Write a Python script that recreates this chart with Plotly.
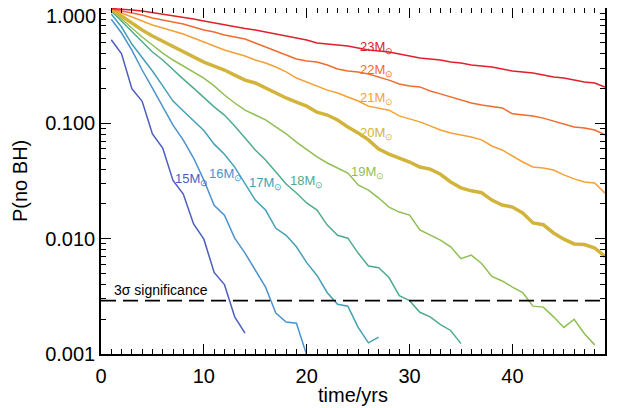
import plotly.graph_objects as go

# ---- data ----
masses = [15, 16, 17, 18, 19, 20, 21, 22, 23]

p15 = [0.53, 0.40, 0.20, 0.155, 0.081, 0.061, 0.032, 0.0244, 0.0134, 0.0099,
       0.0051, 0.0040, 0.0021, 0.00152]
p16 = [0.80, 0.607, 0.432, 0.290, 0.202, 0.138, 0.0966, 0.0716, 0.050, 0.0322,
       0.0195, 0.0160, 0.0101, 0.0075, 0.00534, 0.0038, 0.00226, 0.00189, 0.00185, 0.00098]
p17 = [0.887, 0.684, 0.487, 0.376, 0.284, 0.211, 0.156, 0.128, 0.105, 0.0866,
       0.066, 0.054, 0.0417, 0.0298, 0.0216, 0.0177, 0.0123, 0.0107, 0.0085, 0.0062,
       0.0048, 0.0034, 0.0027, 0.0026, 0.0017, 0.00125, 0.0014]
p18 = [0.942, 0.771, 0.619, 0.507, 0.415, 0.354, 0.290, 0.242, 0.202, 0.166,
       0.139, 0.118, 0.0950, 0.0746, 0.0588, 0.0481, 0.0377, 0.0298, 0.0249, 0.0204,
       0.0177, 0.0131, 0.0107, 0.0101, 0.0075, 0.0058, 0.0056, 0.0046, 0.0032, 0.0029,
       0.0023, 0.0021, 0.0018, 0.0016, 0.00123]
p19 = [0.961, 0.803, 0.671, 0.560, 0.478, 0.407, 0.354, 0.314, 0.279, 0.247,
       0.211, 0.176, 0.150, 0.130, 0.118, 0.107, 0.0930, 0.0812, 0.0687, 0.0588,
       0.0512, 0.0453, 0.0409, 0.0370, 0.0292, 0.0264, 0.0225, 0.0188, 0.0170, 0.0160,
       0.0119, 0.0107, 0.0097, 0.0085, 0.0067, 0.0072, 0.0061, 0.0047, 0.0043, 0.0038,
       0.0034, 0.0026, 0.00255, 0.0021, 0.0017, 0.0020, 0.0015, 0.0012]
p20 = [0.98, 0.852, 0.741, 0.644, 0.572, 0.517, 0.468, 0.416, 0.376, 0.340,
       0.314, 0.290, 0.262, 0.237, 0.224, 0.202, 0.183, 0.166, 0.153, 0.141,
       0.125, 0.118, 0.107, 0.0930, 0.0826, 0.0719, 0.0598, 0.0541, 0.0500, 0.0462,
       0.0418, 0.0401, 0.0362, 0.0310, 0.0276, 0.0260, 0.0250, 0.0216, 0.0196, 0.0188,
       0.0167, 0.0137, 0.0132, 0.0112, 0.0099, 0.0090, 0.0089, 0.0083, 0.0070]
p21 = [0.98, 0.905, 0.835, 0.771, 0.712, 0.671, 0.632, 0.595, 0.549, 0.507,
       0.468, 0.432, 0.407, 0.383, 0.354, 0.333, 0.308, 0.279, 0.247, 0.228,
       0.211, 0.194, 0.183, 0.169, 0.156, 0.141, 0.136, 0.130, 0.116, 0.109,
       0.103, 0.0950, 0.0876, 0.0826, 0.0793, 0.0762, 0.0719, 0.0636, 0.0588, 0.0521,
       0.0462, 0.0418, 0.0409, 0.0394, 0.0357, 0.0330, 0.0310, 0.0304, 0.0248]
p22 = [0.98, 0.942, 0.905, 0.870, 0.819, 0.787, 0.756, 0.726, 0.684, 0.644,
       0.619, 0.583, 0.560, 0.539, 0.497, 0.459, 0.424, 0.391, 0.361, 0.347,
       0.340, 0.320, 0.296, 0.284, 0.279, 0.268, 0.252, 0.237, 0.219, 0.211,
       0.207, 0.191, 0.180, 0.169, 0.159, 0.150, 0.144, 0.139, 0.136, 0.121,
       0.118, 0.116, 0.111, 0.105, 0.0987, 0.0930, 0.0911, 0.0876, 0.0793]
p23 = [0.99, 0.98, 0.961, 0.942, 0.914, 0.887, 0.861, 0.835, 0.803, 0.771,
       0.741, 0.712, 0.684, 0.664, 0.644, 0.619, 0.595, 0.572, 0.549, 0.528,
       0.497, 0.487, 0.478, 0.468, 0.450, 0.432, 0.424, 0.416, 0.399, 0.384,
       0.368, 0.361, 0.354, 0.340, 0.333, 0.320, 0.314, 0.308, 0.296, 0.284,
       0.279, 0.273, 0.262, 0.252, 0.247, 0.237, 0.228, 0.224, 0.206]

threshold = 0.0029          # 3 sigma significance level
threshold_label = "3σ significance"
x_ticks = [0, 10, 20, 30, 40]
y_ticks = [1.0, 0.1, 0.01, 0.001]
y_ticktext = ["1.000", "0.100", "0.010", "0.001"]
x_title = "time/yrs"
y_title = "P(no BH)"

series = [p15, p16, p17, p18, p19, p20, p21, p22, p23]

# ---- styles ----
colors = ["#4a5ec0", "#4b92cf", "#43a0b6", "#50ab8d", "#8fbf52",
          "#d2b43c", "#f4a034", "#ef6c2e", "#e0202a"]
widths = [1.5, 1.5, 1.5, 1.5, 1.5, 3.5, 1.5, 1.5, 1.5]
# label anchor (time, log10 P) for each curve label
label_pos = [(7.0, -1.49), (10.3, -1.44), (14.2, -1.52), (18.2, -1.50), (24.1, -1.43),
             (24.95, -1.085), (24.95, -0.785), (24.95, -0.545), (24.95, -0.34)]

FONT = "Liberation Sans, Arial, Helvetica, sans-serif"

fig = go.Figure()
for m, vals, c, w in zip(masses, series, colors, widths):
    years = list(range(1, len(vals) + 1))
    fig.add_trace(go.Scatter(x=years, y=vals, mode="lines",
                             line=dict(color=c, width=w), showlegend=False,
                             name=f"{m} Msun"))

fig.add_trace(go.Scatter(x=[0, 49], y=[threshold, threshold], mode="lines",
                         line=dict(color="black", width=1.6, dash="15px,7px"),
                         showlegend=False))

for m, c, (lx, ly) in zip(masses, colors, label_pos):
    fig.add_annotation(x=lx, y=ly, xref="x", yref="y", text=f"{m}M<sub>⊙</sub>",
                       showarrow=False, xanchor="left", yanchor="middle",
                       font=dict(family=FONT, size=13, color=c))

fig.add_annotation(x=1.05, y=-2.445, xref="x", yref="y", text=threshold_label,
                   showarrow=False, xanchor="left", yanchor="middle",
                   font=dict(family=FONT, size=14, color="black"))

# the top tick label sits a little below its tick (kept inside the page)
fig.add_annotation(x=0, y=1, xref="paper", yref="paper", text=y_ticktext[0],
                   showarrow=False, xanchor="right", yanchor="middle",
                   xshift=-3, yshift=-8, height=16,
                   font=dict(family=FONT, size=20, color="black"))

# axis titles
fig.add_annotation(x=0.5, y=0, xref="paper", yref="paper", text=x_title,
                   showarrow=False, xanchor="center", yanchor="top", yshift=-28,
                   font=dict(family=FONT, size=20, color="black"))
fig.add_annotation(x=0, y=0.5, xref="paper", yref="paper", text=y_title,
                   showarrow=False, xanchor="center", yanchor="middle", xshift=-81,
                   textangle=-90, font=dict(family=FONT, size=20, color="black"))

# minor tick positions on the log axis (2..9 in each decade)
y_minor = [k * 10.0 ** e for e in (-3, -2, -1) for k in range(2, 10)]

axis_common = dict(showline=True, linecolor="black", linewidth=1.6, mirror="ticks",
                   ticks="inside", ticklen=10, tickwidth=1.3, tickcolor="black",
                   showgrid=False, zeroline=False, automargin=False,
                   ticklabeloverflow="allow",
                   tickfont=dict(family=FONT, size=20, color="black"))

fig.update_xaxes(range=[0, 49], tickvals=x_ticks,
                 minor=dict(dtick=1, tick0=0, ticks="inside", ticklen=5, tickwidth=1.2,
                            tickcolor="black", showgrid=False),
                 ticklabelstandoff=3,
                 **axis_common)
fig.update_yaxes(type="log", range=[-3, 0], tickvals=y_ticks,
                 ticktext=[""] + y_ticktext[1:],
                 minor=dict(tickvals=y_minor, ticks="inside", ticklen=5, tickwidth=1.2,
                            tickcolor="black", showgrid=False),
                 **axis_common)

# the page body adds an 8px margin, so the figure is 609x400 placed at (8, 8)
fig.update_layout(width=609, height=400, margin=dict(l=93, r=12, t=0, b=54),
                  plot_bgcolor="white", paper_bgcolor="white",
                  font=dict(family=FONT, color="black"))

fig.write_html("out.html")
